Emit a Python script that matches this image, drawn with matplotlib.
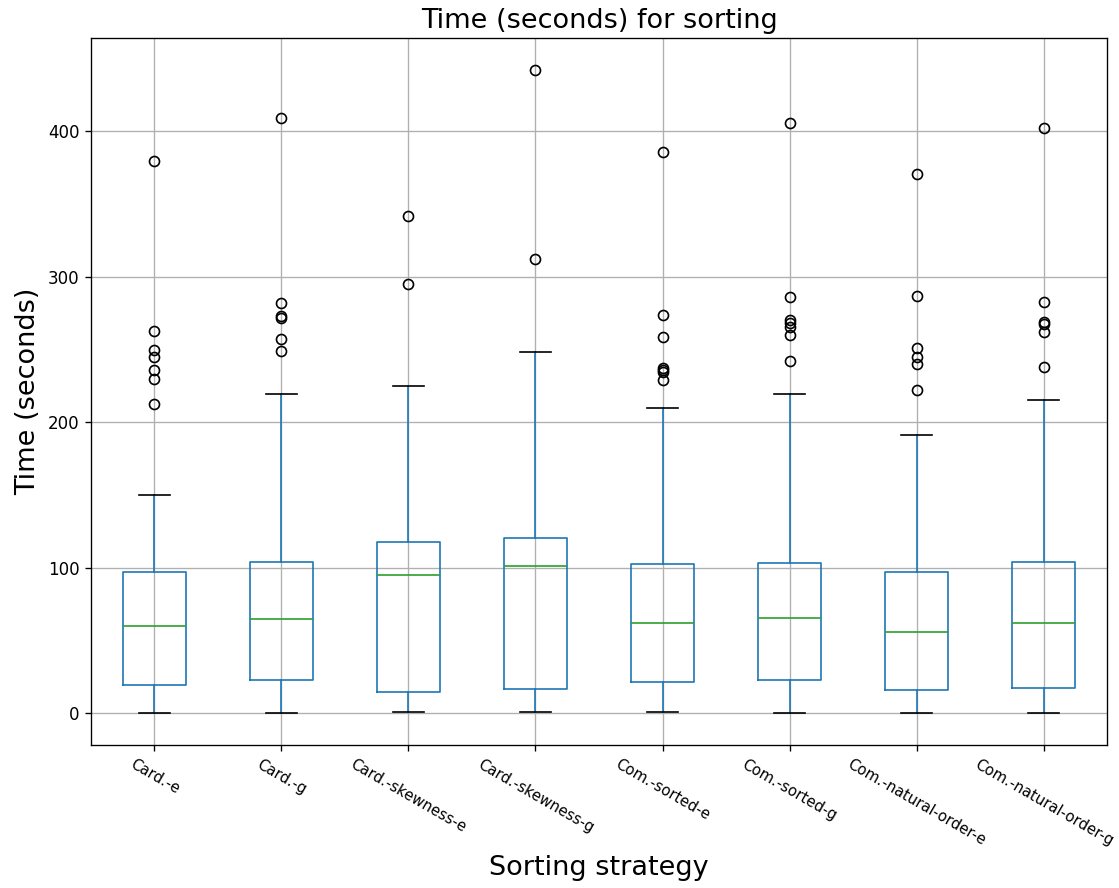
import matplotlib
matplotlib.use('Agg')
import matplotlib.pyplot as plt

strategies = ['Card.-e', 'Card.-g', 'Card.-skewness-e', 'Card.-skewness-g',
              'Com.-sorted-e', 'Com.-sorted-g', 'Com.-natural-order-e',
              'Com.-natural-order-g']

# box summary per strategy (seconds)
q1 = [19.2, 22.7, 14.6, 16.7, 21.3, 22.9, 16.0, 17.4]
medians = [60.1, 64.6, 95.1, 101.2, 62.1, 65.5, 55.9, 62.1]
q3 = [96.9, 103.8, 117.7, 120.5, 102.4, 103.3, 97.4, 104.0]
whis_lo = [0.3, 0.3, 0.7, 0.7, 0.7, 0.3, 0.3, 0.3]
whis_hi = [149.8, 219.2, 225.2, 248.1, 209.8, 219.7, 191.3, 215.1]
outliers = [
    [379.4, 262.8, 249.5, 244.5, 235.7, 229.8, 212.6],
    [409.0, 281.6, 272.9, 271.7, 257.5, 249.0],
    [341.6, 294.8],
    [441.9, 312.0],
    [385.6, 273.8, 258.4, 237.5, 235.7, 234.2, 228.9],
    [405.5, 286.1, 270.1, 268.3, 265.5, 260.2, 242.4],
    [370.4, 286.6, 250.9, 244.5, 240.3, 222.2],
    [402.0, 282.3, 269.0, 267.8, 262.1, 237.8],
]

stats = []
for i, name in enumerate(strategies):
    stats.append({'label': name, 'q1': q1[i], 'med': medians[i], 'q3': q3[i],
                  'whislo': whis_lo[i], 'whishi': whis_hi[i],
                  'fliers': outliers[i]})

fig, ax = plt.subplots(figsize=(1119 / 120, 888 / 120), dpi=120)
ax.bxp(stats, widths=0.5,
       boxprops=dict(color='#1f77b4'),
       whiskerprops=dict(color='#1f77b4'),
       medianprops=dict(color='#2ca02c'),
       capprops=dict(color='k'),
       flierprops=dict(marker='o', markeredgecolor='k', markerfacecolor='none'))
ax.grid(True)
ax.set_axisbelow(True)

ax.set_title('Time (seconds) for sorting', fontsize=16.3)
ax.set_xlabel('Sorting strategy', fontsize=16.3)
ax.set_ylabel('Time (seconds)', fontsize=16.3)
ax.tick_params(axis='y', labelsize=10)
plt.setp(ax.get_xticklabels(), rotation=-30, fontsize=8.9)

fig.subplots_adjust(left=0.0813, right=0.9893, top=0.9572, bottom=0.161)
fig.savefig('out.png', dpi=120)
